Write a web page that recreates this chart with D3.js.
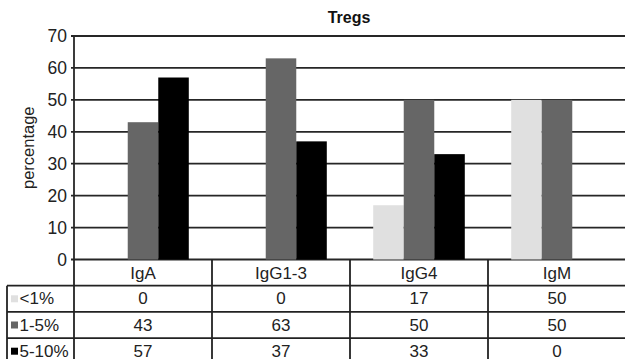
<!DOCTYPE html>
<html>
<head>
<meta charset="utf-8">
<script src="https://cdn.jsdelivr.net/npm/d3@7/dist/d3.min.js"></script>
<style>
  html, body { margin: 0; padding: 0; background: #fff; }
  svg { display: block; font-family: "Liberation Sans", Arial, sans-serif; }
</style>
</head>
<body>
<svg id="chart" width="625" height="359"></svg>
<script>
const categories = ["IgA", "IgG1-3", "IgG4", "IgM"];
const seriesNames = ["<1%", "1-5%", "5-10%"];
const seriesLow = [0, 0, 17, 50];
const seriesMid = [43, 63, 50, 50];
const seriesHigh = [57, 37, 33, 0];
const yTicks = [0, 10, 20, 30, 40, 50, 60, 70];
const colors = ["#e0e0e0", "#666666", "#000000"];

const seriesValues = [seriesLow, seriesMid, seriesHigh];

const svg = d3.select("#chart");
const plotLeft = 74, plotRight = 626, plotTop = 36, plotBottom = 259.5;
const rowH = 26.2;

const x0 = d3.scaleBand().domain(categories).range([plotLeft, plotRight]).paddingInner(0).paddingOuter(0);
const x1 = d3.scaleBand().domain(seriesNames).range([0, x0.bandwidth()]).paddingInner(0).paddingOuter(0.76);
const y = d3.scaleLinear().domain([0, 70]).range([plotBottom, plotTop]);

// gridlines
svg.append("g").selectAll("line").data(yTicks).join("line")
  .attr("x1", plotLeft - 3).attr("x2", plotRight)
  .attr("y1", d => y(d)).attr("y2", d => y(d))
  .attr("stroke", "#262626").attr("stroke-width", 1.8);

// y axis line
svg.append("line").attr("x1", plotLeft).attr("x2", plotLeft).attr("y1", plotTop).attr("y2", plotBottom)
  .attr("stroke", "#262626").attr("stroke-width", 1.8);

// tick labels
svg.append("g").selectAll("text").data(yTicks).join("text")
  .attr("x", 67).attr("y", d => y(d))
  .attr("text-anchor", "end").attr("dominant-baseline", "central")
  .attr("font-size", 17.5).attr("fill", "#222")
  .text(d => d);

// bars
const groups = svg.append("g").selectAll("g").data(categories).join("g")
  .attr("transform", c => `translate(${x0(c)},0)`);
groups.selectAll("rect").data((c, i) => seriesNames.map((s, j) => ({ s, j, v: seriesValues[j][i] })))
  .join("rect")
  .attr("x", d => x1(d.s)).attr("width", x1.bandwidth())
  .attr("y", d => y(d.v)).attr("height", d => y(0) - y(d.v))
  .attr("fill", d => colors[d.j]);

// title
svg.append("text").attr("x", (plotLeft + plotRight) / 2 - 1).attr("y", 23)
  .attr("text-anchor", "middle").attr("font-weight", "bold").attr("font-size", 16)
  .attr("fill", "#111").text("Tregs");

// y label
svg.append("text").attr("transform", `translate(28,${(plotTop + plotBottom) / 2}) rotate(-90)`)
  .attr("text-anchor", "middle").attr("dominant-baseline", "central")
  .attr("font-size", 16.5).attr("fill", "#222").text("percentage");

// table
const tableTop = plotBottom;
const lineColor = "#222";
const tg = svg.append("g");
[1, 2, 3].forEach(k => {
  tg.append("line").attr("x1", 7).attr("x2", plotRight)
    .attr("y1", tableTop + k * rowH).attr("y2", tableTop + k * rowH)
    .attr("stroke", lineColor).attr("stroke-width", 1.8);
});
const vx = categories.map(c => x0(c)).concat([plotRight]);
tg.selectAll("line.v").data(vx).join("line").attr("class", "v")
  .attr("x1", d => d).attr("x2", d => d)
  .attr("y1", tableTop).attr("y2", 365)
  .attr("stroke", lineColor).attr("stroke-width", 1.8);
tg.append("line").attr("x1", 7).attr("x2", 7).attr("y1", tableTop + rowH).attr("y2", 365)
  .attr("stroke", lineColor).attr("stroke-width", 1.8);

tg.selectAll("text.cat").data(categories).join("text").attr("class", "cat")
  .attr("x", c => x0(c) + x0.bandwidth() / 2).attr("y", tableTop + rowH / 2 + 1)
  .attr("text-anchor", "middle").attr("dominant-baseline", "central")
  .attr("font-size", 17).attr("fill", "#222").text(c => c);

seriesNames.forEach((s, j) => {
  const cy = tableTop + rowH * (j + 1) + rowH / 2;
  tg.append("rect").attr("x", 11).attr("y", cy - 3.5).attr("width", 7).attr("height", 7)
    .attr("fill", colors[j]);
  tg.append("text").attr("x", 19.5).attr("y", cy)
    .attr("dominant-baseline", "central").attr("font-size", 17).attr("fill", "#222").text(s);
  tg.selectAll(null).data(categories).join("text")
    .attr("x", c => x0(c) + x0.bandwidth() / 2).attr("y", cy)
    .attr("text-anchor", "middle").attr("dominant-baseline", "central")
    .attr("font-size", 17).attr("fill", "#222")
    .text((c, i) => seriesValues[j][i]);
});
</script>
</body>
</html>
